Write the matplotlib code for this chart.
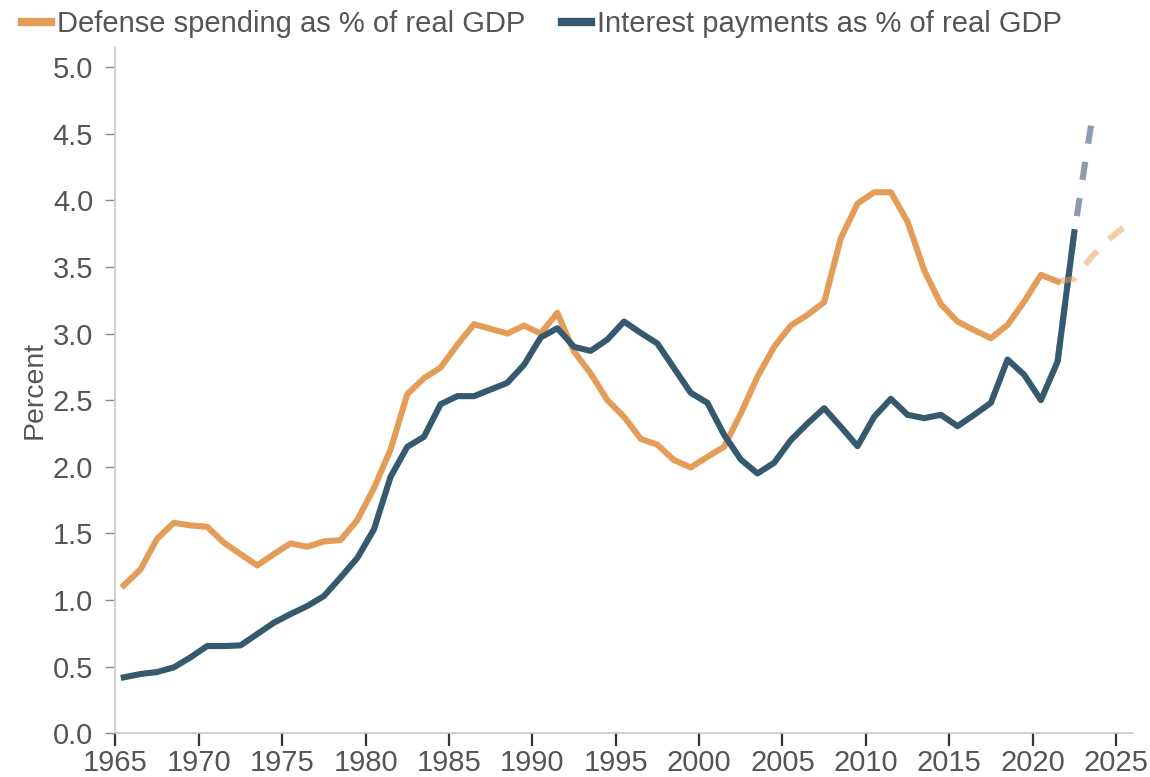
import numpy as np
import matplotlib.pyplot as plt

plt.rcParams['font.family'] = ['Liberation Sans', 'DejaVu Sans']

# fiscal years, plotted at mid-year
years = np.arange(1965, 2023)

defense = [1.11, 1.23, 1.46, 1.58, 1.56, 1.55, 1.43, 1.345, 1.26, 1.345,
           1.425, 1.40, 1.44, 1.45, 1.60, 1.84, 2.13, 2.545, 2.665, 2.745,
           2.915, 3.07, 3.035, 3.00, 3.06, 3.00, 3.155, 2.865, 2.70, 2.50,
           2.375, 2.21, 2.165, 2.05, 1.995, 2.075, 2.15, 2.40, 2.675, 2.90,
           3.06, 3.14, 3.235, 3.715, 3.975, 4.06, 4.06, 3.84, 3.475, 3.22,
           3.09, 3.025, 2.965, 3.065, 3.24, 3.44, 3.39]

interest = [0.42, 0.445, 0.46, 0.495, 0.57, 0.655, 0.655, 0.66, 0.745, 0.83,
            0.895, 0.955, 1.03, 1.17, 1.315, 1.53, 1.925, 2.15, 2.225, 2.47,
            2.53, 2.53, 2.58, 2.63, 2.765, 2.97, 3.04, 2.90, 2.87, 2.955,
            3.09, 3.005, 2.925, 2.74, 2.555, 2.48, 2.24, 2.055, 1.95, 2.03,
            2.20, 2.325, 2.44, 2.30, 2.155, 2.375, 2.51, 2.39, 2.365, 2.39,
            2.305, 2.39, 2.48, 2.805, 2.69, 2.50, 2.79, 3.76]

# projections
defense_proj_years = np.arange(2021, 2026)
defense_proj = [3.39, 3.41, 3.57, 3.70, 3.80]
interest_proj_years = np.arange(2021, 2024)
interest_proj = [2.79, 3.76, 4.56]

orange = '#e39d58'
blue = '#355a6f'
text_gray = '#555555'
lw = 4.4

fig = plt.figure(figsize=(11.5, 7.77), dpi=100)
ax = fig.add_axes([0.1004, 0.0562, 0.8845, 0.8833])

ax.plot(interest_proj_years + 0.5, interest_proj, color='#8e9ab1', lw=lw,
        dashes=(3, 3), zorder=2)
ax.plot(years[:len(defense)] + 0.5, defense, color=orange, lw=lw, zorder=3,
        label='Defense spending as % of real GDP')
ax.plot(years + 0.5, interest, color=blue, lw=lw, zorder=3,
        label='Interest payments as % of real GDP')
ax.plot(defense_proj_years + 0.5, defense_proj, color=orange, alpha=0.5,
        lw=lw, dashes=(3, 2.7), zorder=4)

ax.set_xlim(1965, 2026)
ax.set_ylim(0, 5.15)
ax.set_xticks(np.arange(1965, 2026, 5))
ax.set_yticks(np.arange(0, 5.01, 0.5))
ax.yaxis.set_major_formatter(plt.FormatStrFormatter('%.1f'))

for side in ['top', 'right']:
    ax.spines[side].set_visible(False)
for side in ['left', 'bottom']:
    ax.spines[side].set_color('#c8c8c8')
    ax.spines[side].set_linewidth(1.2)

ax.tick_params(axis='y', length=7, width=1, color='#888888', pad=9,
               labelsize=21, labelcolor=text_gray)
ax.tick_params(axis='x', length=9, width=1.6, color='#333333', pad=2,
               labelsize=21, labelcolor=text_gray)
ax.set_ylabel('Percent', fontsize=20.5, color=text_gray, labelpad=4)

leg = fig.legend(loc='upper left', bbox_to_anchor=(0.019, 0.987), ncol=2,
                 frameon=False, fontsize=21, labelcolor=text_gray,
                 handlelength=1.0, handletextpad=0.2, columnspacing=1.25,
                 borderpad=0, borderaxespad=0)
for line in leg.get_lines():
    line.set_linewidth(6)

fig.savefig('out.png', dpi=100)
